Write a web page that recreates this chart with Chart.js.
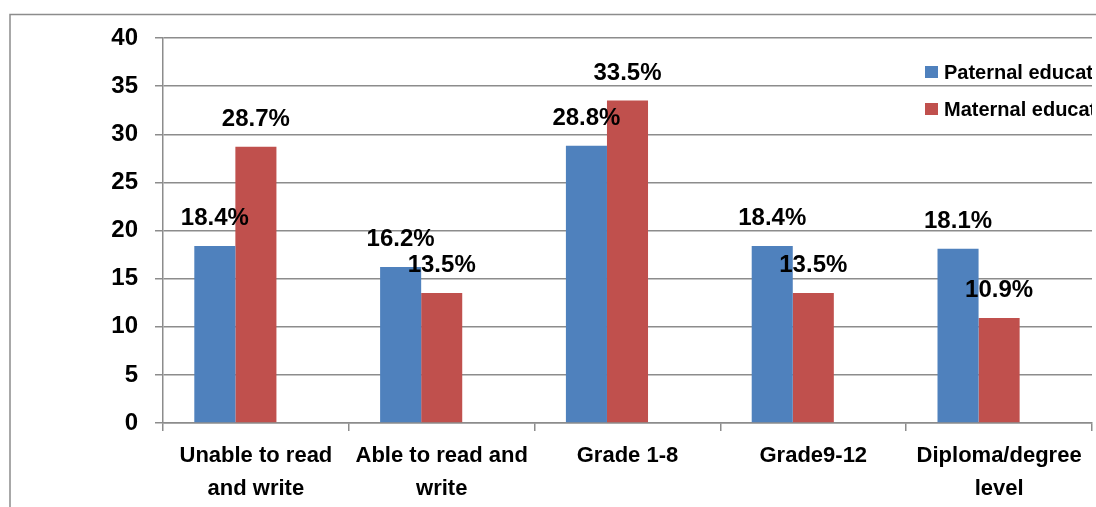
<!DOCTYPE html>
<html><head><meta charset="utf-8">
<script src="https://cdn.jsdelivr.net/npm/chart.js@4.4.1/dist/chart.umd.min.js"></script>
<style>html,body{margin:0;padding:0;background:#fff;overflow:hidden}#wrap{width:1096px;height:507px;position:relative}</style>
</head><body><div id="wrap"><canvas id="c" width="1096" height="507"></canvas></div>
<script>
const categories = [["Unable to read","and write"],["Able to read and","write"],["Grade 1-8"],["Grade9-12"],["Diploma/degree","level"]];
const seriesNames = ["Paternal education","Maternal education"];
const paternal = [18.4, 16.2, 28.8, 18.4, 18.1];
const maternal = [28.7, 13.5, 33.5, 13.5, 10.9];
const emptySeries = [null, null, null, null, null];
const yTicks = [0,5,10,15,20,25,30,35,40];
const colors = ["#4F81BD","#C0504D"];
const FONT = "'Liberation Sans', Arial, sans-serif";

const frame = {id:'frame', beforeDraw(ch){const c=ch.ctx;c.save();c.strokeStyle='#8c8c8c';c.lineWidth=1.5;c.strokeRect(10,14.5,1200,600);c.restore();}};
const labels = {id:'labels', afterDatasetsDraw(ch){
  const c=ch.ctx;c.save();c.font='bold 24px '+FONT;c.fillStyle='#000';c.textAlign='center';c.textBaseline='alphabetic';
  [0,1].forEach(i=>{const ds=ch.data.datasets[i];ch.getDatasetMeta(i).data.forEach((b,j)=>{c.fillText(ds.data[j].toFixed(1)+'%', b.x, b.y-21);});});
  c.restore();}};
const legend = {id:'leg', afterDraw(ch){
  const c=ch.ctx;c.save();c.beginPath();c.rect(0,0,1092,507);c.clip();
  c.font='bold 20px '+FONT;c.textBaseline='middle';c.textAlign='left';
  const x=925, ys=[72,109];
  [0,1].forEach(i=>{const ds=ch.data.datasets[i];c.fillStyle=ds.backgroundColor;c.fillRect(x,ys[i]-6,13,12);c.fillStyle='#000';c.fillText(ds.label,x+19,ys[i]+1);});
  c.restore();}};

new Chart(document.getElementById('c'),{
  type:'bar',
  data:{labels:categories,datasets:[
    {label:seriesNames[0],data:paternal,backgroundColor:colors[0]},
    {label:seriesNames[1],data:maternal,backgroundColor:colors[1]},
    {label:'',data:emptySeries,backgroundColor:'rgba(0,0,0,0)'}]},
  options:{responsive:false,animation:false,
    layout:{padding:{left:0,right:4,top:38,bottom:0}},
    plugins:{legend:{display:false},tooltip:{enabled:false}},
    datasets:{bar:{categoryPercentage:0.663,barPercentage:1.0}},
    scales:{
      x:{afterFit(s){s.height=84;},
         grid:{offset:true,drawOnChartArea:false,drawTicks:true,tickLength:8,color:'#8c8c8c',lineWidth:1.5},
         border:{color:'#8c8c8c',width:1.5},
         ticks:{color:'#000',font:{family:FONT,size:22,weight:'bold',lineHeight:1.5},padding:8,maxRotation:0,autoSkip:false}},
      y:{min:0,max:40,afterBuildTicks(s){s.ticks=yTicks.map(v=>({value:v}));},
         afterFit(s){s.width=163;},
         grid:{color:'#8c8c8c',lineWidth:1.5,tickLength:8},
         border:{color:'#8c8c8c',width:1.5},
         ticks:{color:'#000',font:{family:FONT,size:24,weight:'bold'},padding:17}}
    }},
  plugins:[frame,labels,legend]
});
</script></body></html>
